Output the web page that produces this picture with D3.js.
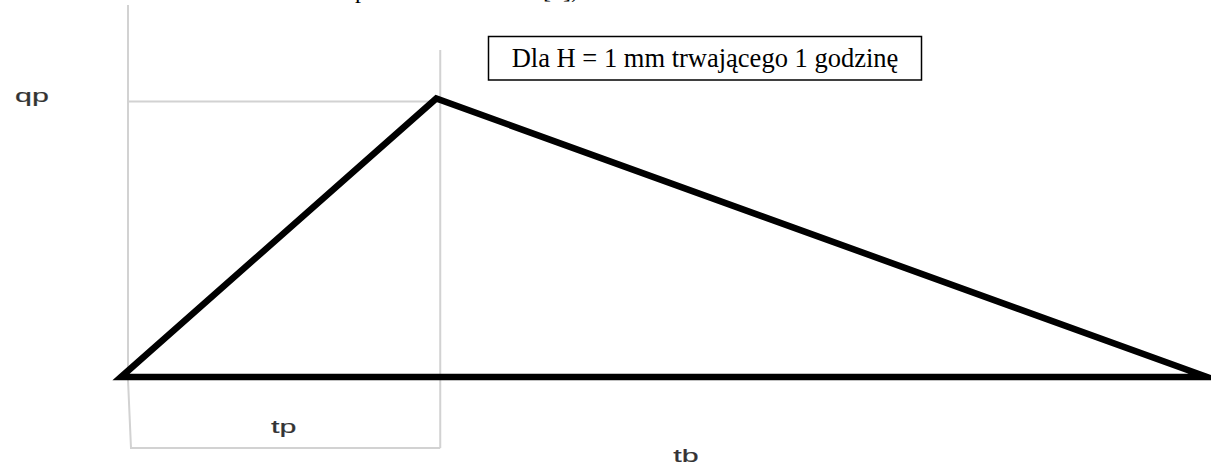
<!DOCTYPE html>
<html>
<head>
<meta charset="utf-8">
<script src="https://cdn.jsdelivr.net/npm/d3@7"></script>
<style>
  html, body { margin: 0; padding: 0; background: #fff; overflow: hidden; }
  svg { display: block; }
</style>
</head>
<body>
<script>
// ---- data (dimensionless unit hydrograph) ----
const timeKeys   = ["start", "tp", "tb"];
const timeValues = [0, 1, 3.445];      // t / tp
const flowValues = [0, 1, 0];          // q / qp
const axisLabels = ["qp", "tp", "tb"];
const noteText   = "Dla H = 1 mm trwającego 1 godzinę";
const topTextParts = ["p", "[4],"];

(function () {
const W = 1211, H = 472;
const svg = d3.select("body").append("svg").attr("width", W).attr("height", H);
svg.append("rect").attr("width", W).attr("height", H).attr("fill", "#fff");

const x = d3.scaleLinear().domain([0, d3.max(timeValues)]).range([121, 1207]);
const y = d3.scaleLinear().domain([0, d3.max(flowValues)]).range([377, 98.5]);

const tp = timeValues[1], qp = flowValues[1];

// cut-off caption line from the page above (only descenders visible)
const cap = svg.append("text").attr("font-family", "Liberation Serif").attr("font-size", 24).attr("fill", "#000");
cap.append("tspan").attr("x", 355).attr("y", -2).text(topTextParts[0]);
cap.append("tspan").attr("x", 543).attr("y", -2).text(topTextParts[1]);

// grey dimension / guide lines
const g = svg.append("g").attr("fill", "none").attr("stroke", "#d2d2d2").attr("stroke-width", 2);
const gx0 = x(0) + 7, gx1 = x(tp) + 4, gyq = y(qp) + 3, gyb = 448;
g.append("path").attr("d", d3.line()([[gx0, 5], [gx0, y(0) + 3], [gx0 + 3, gyb], [gx1, gyb]]));
g.append("line").attr("x1", gx1).attr("x2", gx1).attr("y1", 50).attr("y2", gyb);
g.append("line").attr("x1", gx0).attr("x2", gx1).attr("y1", gyq).attr("y2", gyq);

// triangular hydrograph
const pts = timeValues.map((t, i) => [x(t), y(flowValues[i])]);
svg.append("path")
  .attr("d", d3.line()(pts) + "Z")
  .attr("fill", "none")
  .attr("stroke", "#000")
  .attr("stroke-width", 6.5)
  .attr("stroke-linejoin", "miter")
  .attr("stroke-miterlimit", 10);

// note box
svg.append("rect").attr("x", 488.5).attr("y", 36.5).attr("width", 433).attr("height", 43.5)
  .attr("fill", "#fff").attr("stroke", "#000").attr("stroke-width", 1.5);
svg.append("text").attr("x", 705).attr("y", 67).attr("text-anchor", "middle")
  .attr("font-family", "Liberation Serif").attr("font-size", 26.5).attr("fill", "#000")
  .text(noteText);

// axis labels (wide sans)
const labelPos = [[32, y(qp) + 3.5], [(x(0) + x(tp)) / 2 + 5, 433], [686, 462]];
axisLabels.forEach((lab, i) => {
  svg.append("text")
    .attr("transform", `translate(${labelPos[i][0]},${labelPos[i][1]}) scale(1.6,1)`)
    .attr("text-anchor", "middle")
    .attr("font-family", "Liberation Sans").attr("font-size", 19).attr("fill", "#333")
    .attr("stroke", "#333").attr("stroke-width", 0.2)
    .text(lab);
});
})();
</script>
</body>
</html>
